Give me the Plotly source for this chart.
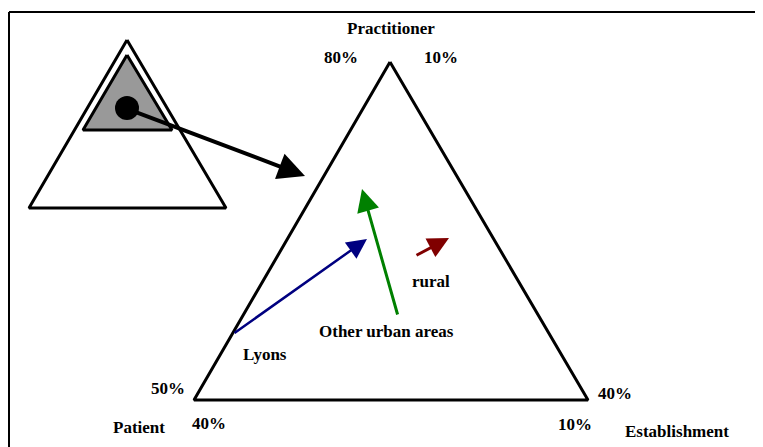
import plotly.graph_objects as go

# canvas units: x to the right, y downward (matches the picture)
W, H = 763, 447
PAD = 8  # page body margin in the browser

# small key triangle (top left) and its shaded zoom region
key_tri_x = [127, 29, 226]
key_tri_y = [40, 208, 208]
zoom_tri_x = [127, 83, 172]
zoom_tri_y = [55, 130, 130]
dot_x, dot_y = [127], [108]

# main triangle
main_tri_x = [390, 194, 588]
main_tri_y = [62, 400, 400]

# trajectory arrows: tail -> tip
arrow_names = ["zoom", "Lyons", "Other urban areas", "rural"]
tail_x = [133, 233, 398, 415]
tail_y = [111, 334, 316, 256]
tip_x = [305, 367, 362, 449]
tip_y = [176, 239, 189, 238]
arrow_colors = ["black", "#000080", "#008000", "#800000"]
arrow_widths = [4, 2.5, 3, 3]
arrow_sizes = [1.35, 1.6, 1.5, 1.4]

# text labels
label_text = ["Practitioner", "80%", "10%", "50%", "40%", "40%", "10%",
              "Patient", "Establishment", "rural", "Other urban areas", "Lyons"]
label_x = [391, 341, 441, 168, 615, 209, 575, 139, 677, 431, 386, 265]
label_y = [28, 57, 57, 388, 393, 423, 424, 427, 431, 281, 331, 354]

font = dict(family="Liberation Serif", size=17, color="black")

fig = go.Figure()


def closed(xs, ys):
    return xs + xs[:1], ys + ys[:1]


x, y = closed(key_tri_x, key_tri_y)
fig.add_trace(go.Scatter(x=x, y=y, mode="lines", fill="toself", fillcolor="white",
                         line=dict(color="black", width=3)))
x, y = closed(zoom_tri_x, zoom_tri_y)
fig.add_trace(go.Scatter(x=x, y=y, mode="lines", fill="toself", fillcolor="#999999",
                         line=dict(color="black", width=3)))
fig.add_trace(go.Scatter(x=dot_x, y=dot_y, mode="markers",
                         marker=dict(color="black", size=24)))
x, y = closed(main_tri_x, main_tri_y)
fig.add_trace(go.Scatter(x=x, y=y, mode="lines", line=dict(color="black", width=3)))

for i in range(len(arrow_names)):
    fig.add_annotation(x=tip_x[i], y=tip_y[i], ax=tail_x[i], ay=tail_y[i],
                       xref="x", yref="y", axref="x", ayref="y", text="",
                       showarrow=True, arrowhead=2, arrowsize=arrow_sizes[i],
                       arrowwidth=arrow_widths[i], arrowcolor=arrow_colors[i])

for t, lx, ly in zip(label_text, label_x, label_y):
    fig.add_annotation(x=lx, y=ly, xref="x", yref="y", text="<b>%s</b>" % t,
                       showarrow=False, font=font)

# frame: top and left edges
fig.add_shape(type="line", x0=9, y0=12, x1=W, y1=12, line=dict(color="black", width=2))
fig.add_shape(type="line", x0=9, y0=12, x1=9, y1=H, line=dict(color="black", width=2))

fig.update_xaxes(range=[PAD, W], visible=False, fixedrange=True)
fig.update_yaxes(range=[H, PAD], visible=False, fixedrange=True)
fig.update_layout(width=W - PAD, height=H - PAD, margin=dict(l=0, r=0, t=0, b=0),
                  showlegend=False, plot_bgcolor="white", paper_bgcolor="white")

fig.write_html("out.html")
